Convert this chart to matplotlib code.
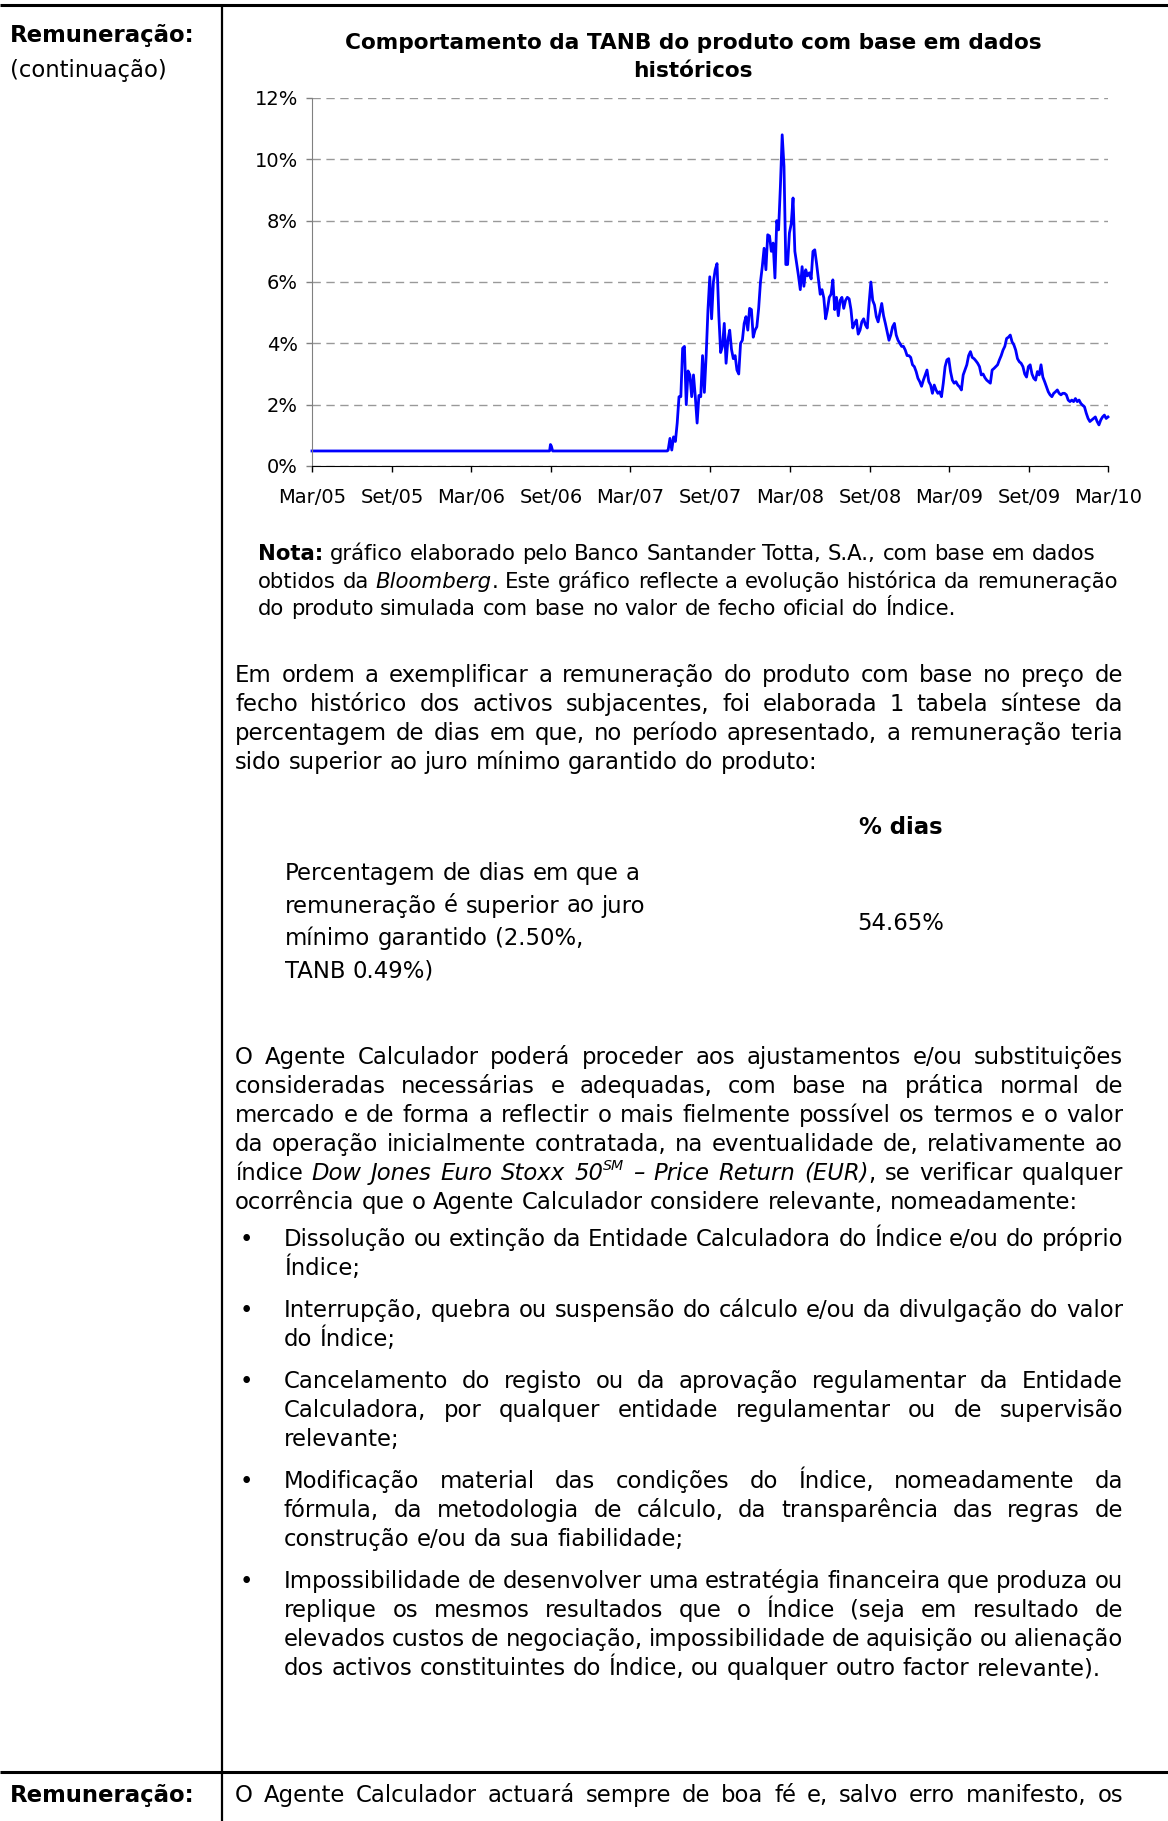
import pandas as pd
import matplotlib
matplotlib.use('Agg')
import matplotlib.pyplot as plt
from matplotlib.font_manager import FontProperties

# TANB (%)
flat_dates = ['2005-03-01', '2006-08-28', '2006-08-30', '2006-09-01', '2006-09-04', '2007-05-25']
flat_tanb = [0.49, 0.49, 0.70, 0.65, 0.49, 0.49]

# readings taken at equal date steps between tail_start and tail_end
tail_start = '2007-05-27'
tail_end = '2010-03-01'
tail_tanb = [
    0.52, 0.90, 0.52, 0.95, 0.80, 1.40, 2.26, 2.26, 3.84, 3.90,
    2.00, 3.10, 2.97, 2.26, 2.97, 2.26, 1.40, 2.30, 2.26, 3.60,
    2.40, 3.60, 5.10, 6.17, 4.80, 6.00, 6.40, 6.60, 4.90, 3.70,
    3.90, 4.65, 3.35, 4.10, 4.43, 3.80, 3.50, 3.60, 3.13, 3.00,
    4.00, 4.10, 4.65, 4.87, 4.43, 5.14, 5.10, 4.20, 4.43, 4.54,
    5.14, 6.00, 6.50, 7.10, 6.40, 7.54, 7.50, 7.00, 7.27, 6.13,
    8.00, 7.70, 9.10, 10.80, 9.77, 6.57, 6.57, 7.60, 7.90, 8.74,
    7.00, 6.60, 6.20, 5.75, 6.50, 5.86, 6.40, 6.20, 6.30, 6.10,
    7.00, 7.05, 6.60, 6.10, 5.60, 5.75, 5.48, 4.80, 5.10, 5.50,
    5.60, 6.07, 5.10, 5.50, 4.90, 5.40, 5.50, 5.14, 5.40, 5.50,
    5.45, 5.10, 4.50, 4.65, 4.76, 4.30, 4.43, 4.70, 4.80, 4.60,
    4.50, 5.30, 6.00, 5.40, 5.25, 4.87, 4.70, 5.00, 5.30, 4.90,
    4.65, 4.38, 4.10, 4.27, 4.54, 4.65, 4.27, 4.10, 4.00, 3.90,
    3.90, 3.78, 3.60, 3.60, 3.54, 3.30, 3.24, 3.08, 2.86, 2.75,
    2.60, 2.80, 2.97, 3.13, 2.75, 2.64, 2.37, 2.64, 2.48, 2.37,
    2.42, 2.26, 2.70, 3.24, 3.46, 3.50, 3.08, 2.80, 2.70, 2.75,
    2.64, 2.58, 2.48, 2.97, 3.13, 3.30, 3.60, 3.73, 3.54, 3.50,
    3.43, 3.35, 3.24, 2.97, 3.00, 2.88, 2.80, 2.75, 2.70, 3.13,
    3.18, 3.24, 3.30, 3.46, 3.60, 3.78, 3.90, 4.16, 4.20, 4.27,
    4.05, 3.95, 3.78, 3.50, 3.40, 3.35, 3.24, 3.00, 2.90, 3.24,
    3.30, 3.00, 2.86, 2.80, 3.08, 2.97, 3.30, 2.90, 2.75, 2.58,
    2.42, 2.32, 2.26, 2.37, 2.42, 2.48, 2.37, 2.32, 2.37, 2.37,
    2.32, 2.15, 2.10, 2.15, 2.10, 2.20, 2.10, 2.15, 2.04, 1.98,
    1.93, 1.72, 1.55, 1.45, 1.50, 1.55, 1.60, 1.45, 1.34, 1.50,
    1.60, 1.66, 1.55, 1.60,
]

tick_dates = ['2005-03-01', '2005-09-01', '2006-03-01', '2006-09-01', '2007-03-01', '2007-09-01',
              '2008-03-01', '2008-09-01', '2009-03-01', '2009-09-01', '2010-03-01']
tick_labels = ['Mar/05', 'Set/05', 'Mar/06', 'Set/06', 'Mar/07', 'Set/07',
               'Mar/08', 'Set/08', 'Mar/09', 'Set/09', 'Mar/10']
y_ticks = [0, 2, 4, 6, 8, 10, 12]

chart_title = ['Comportamento da TANB do produto com base em dados', 'históricos']

# page text; markup: #bold#  _italic_  ^superscript^
nota_lines = [
    '#Nota:# gráfico elaborado pelo Banco Santander Totta, S.A., com base em dados',
    'obtidos da _Bloomberg_. Este gráfico reflecte a evolução histórica da remuneração',
    'do produto simulada com base no valor de fecho oficial do Índice.',
]
intro_lines = [
    'Em ordem a exemplificar a remuneração do produto com base no preço de',
    'fecho histórico dos activos subjacentes, foi elaborada 1 tabela síntese da',
    'percentagem de dias em que, no período apresentado, a remuneração teria',
    'sido superior ao juro mínimo garantido do produto:',
]
table_head = '% dias'
table_row = ['Percentagem de dias em que a', 'remuneração é superior ao juro',
             'mínimo garantido (2.50%,', 'TANB 0.49%)']
table_value = '54.65%'
agent_lines = [
    'O Agente Calculador poderá proceder aos ajustamentos e/ou substituições',
    'consideradas necessárias e adequadas, com base na prática normal de',
    'mercado e de forma a reflectir o mais fielmente possível os termos e o valor',
    'da operação inicialmente contratada, na eventualidade de, relativamente ao',
    'índice _Dow Jones Euro Stoxx 50^SM^ – Price Return (EUR)_, se verificar qualquer',
    'ocorrência que o Agente Calculador considere relevante, nomeadamente:',
]
bullets = [
    ['Dissolução ou extinção da Entidade Calculadora do Índice e/ou do próprio', 'Índice;'],
    ['Interrupção, quebra ou suspensão do cálculo e/ou da divulgação do valor', 'do Índice;'],
    ['Cancelamento do registo ou da aprovação regulamentar da Entidade',
     'Calculadora, por qualquer entidade regulamentar ou de supervisão', 'relevante;'],
    ['Modificação material das condições do Índice, nomeadamente da',
     'fórmula, da metodologia de cálculo, da transparência das regras de',
     'construção e/ou da sua fiabilidade;'],
    ['Impossibilidade de desenvolver uma estratégia financeira que produza ou',
     'replique os mesmos resultados que o Índice (seja em resultado de',
     'elevados custos de negociação, impossibilidade de aquisição ou alienação',
     'dos activos constituintes do Índice, ou qualquer outro factor relevante).'],
]
last_line = 'O Agente Calculador actuará sempre de boa fé e, salvo erro manifesto, os'

W, H = 1168, 1821
FS = 16.4
FS_NOTE = 15.3
FS_TICK = 14
FAMILY = 'DejaVu Sans'

fig = plt.figure(figsize=(W / 100, H / 100), dpi=100)
page = fig.add_axes([0, 0, 1, 1])
page.set_xlim(0, W)
page.set_ylim(H, 0)
page.axis('off')
renderer = fig.canvas.get_renderer()


def fprops(size, bold=False, italic=False):
    return FontProperties(family=FAMILY, size=size,
                          weight='bold' if bold else 'normal',
                          style='italic' if italic else 'normal')


def text_w(s, fp):
    return renderer.get_text_width_height_descent(s, fp, ismath=False)[0]


def parse(line):
    state = {'#': False, '_': False, '^': False}
    words = []
    for raw in line.split(' '):
        segs, buf = [], ''
        for ch in raw:
            if ch in state:
                if buf:
                    segs.append((buf, dict(state)))
                    buf = ''
                state[ch] = not state[ch]
            else:
                buf += ch
        if buf:
            segs.append((buf, dict(state)))
        words.append(segs)
    return words


def seg_fp(st, size):
    return fprops(size * 0.62 if st['^'] else size, st['#'], st['_'])


def draw_line(line, x0, x1, y, size, justify=False):
    words = parse(line)
    widths = [sum(text_w(s, seg_fp(st, size)) for s, st in w) for w in words]
    gap = text_w('a a', fprops(size)) - text_w('aa', fprops(size))
    if justify and len(words) > 1:
        gap = (x1 - x0 - sum(widths)) / (len(words) - 1)
    x = x0
    for w, wd in zip(words, widths):
        for s, st in w:
            fp = seg_fp(st, size)
            dy = -size * 1.389 * 0.42 if st['^'] else 0
            page.text(x, y + dy, s, fontproperties=fp, va='baseline', ha='left', color='black')
            x += text_w(s, fp)
        x += gap


def paragraph(lines, x0, x1, y0, lh, size, justify=True):
    for i, l in enumerate(lines):
        draw_line(l, x0, x1, y0 + i * lh, size, justify and i < len(lines) - 1)


# table frame
page.plot([0, W], [5, 5], color='black', lw=2.2, solid_capstyle='butt')
page.plot([222, 222], [4, H], color='black', lw=1.6, solid_capstyle='butt')
page.plot([0, W], [1772, 1772], color='black', lw=2.2, solid_capstyle='butt')

# left column
draw_line('#Remuneração:#', 10, 210, 42, FS)
draw_line('(continuação)', 10, 210, 77, FS)
draw_line('#Remuneração:#', 10, 210, 1802, FS)

# chart title
for i, t in enumerate(chart_title):
    page.text(693, 49 + i * 28, t, fontproperties=fprops(15.6, bold=True),
              ha='center', va='baseline')

# chart
dates = list(pd.to_datetime(flat_dates)) + list(pd.date_range(tail_start, tail_end, periods=len(tail_tanb)))
values = flat_tanb + tail_tanb
ax = fig.add_axes([312 / W, 1 - 466 / H, (1108 - 312) / W, (466 - 98) / H])
ax.patch.set_alpha(0)
ax.plot(dates, values, color='#0000FF', lw=2.0, clip_on=False)
ax.set_xlim(pd.Timestamp('2005-03-01'), pd.Timestamp('2010-03-01'))
ax.set_ylim(0, 12)
ax.set_yticks(y_ticks)
ax.set_yticklabels([f'{v}%' for v in y_ticks], fontsize=FS_TICK, family=FAMILY)
ax.set_xticks(pd.to_datetime(tick_dates))
ax.set_xticklabels(tick_labels, fontsize=FS_TICK, family=FAMILY)
ax.grid(axis='y', color='#999999', lw=1, linestyle=(0, (6, 4)))
ax.set_axisbelow(True)
for side in ['top', 'right']:
    ax.spines[side].set_visible(False)
ax.spines['left'].set_color('#808080')
ax.spines['bottom'].set_color('black')
ax.tick_params(axis='y', direction='out', length=4, width=1, color='#808080', pad=6)
ax.tick_params(axis='x', direction='out', length=4.5, width=1, color='black', pad=11.5)

# note under the chart
paragraph(nota_lines, 258, 1123, 560, 27.5, FS_NOTE, justify=False)

# intro paragraph
paragraph(intro_lines, 235, 1123, 682, 29, FS)

# summary table
page.text(901, 834, table_head, fontproperties=fprops(FS, bold=True), ha='center', va='baseline')
paragraph(table_row, 285, 700, 880, 32.5, FS, justify=False)
page.text(901, 930, table_value, fontproperties=fprops(FS), ha='center', va='baseline')

# agent paragraph
paragraph(agent_lines, 235, 1123, 1064, 29, FS)

# bullet list
by = 1246
for item in bullets:
    page.text(240, by, '•', fontproperties=fprops(FS), ha='left', va='baseline')
    paragraph(item, 284, 1123, by, 29, FS)
    by += len(item) * 29 + 13

draw_line(last_line, 235, 1123, 1802, FS, justify=True)

fig.savefig('out.png', dpi=100)
